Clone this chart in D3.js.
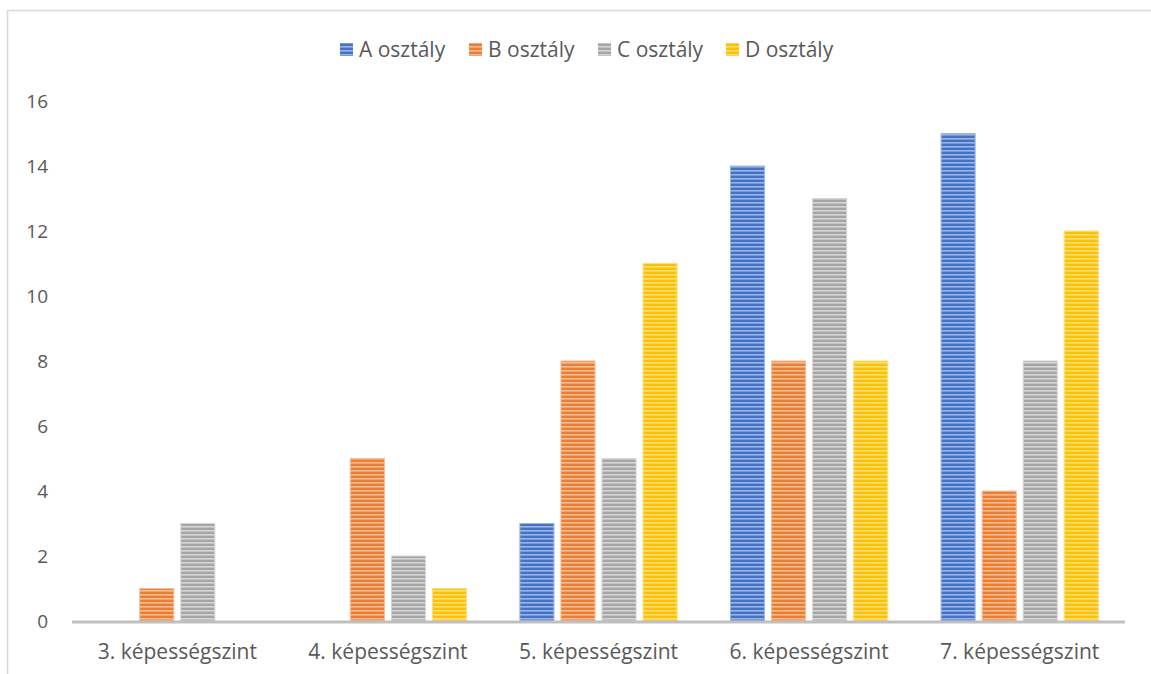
<!DOCTYPE html>
<html><head><meta charset="utf-8">
<script src="https://cdn.jsdelivr.net/npm/d3@7"></script>
<style>body{margin:0;background:#fff}svg{display:block}</style>
</head><body>
<script>
const categories = ["3. képességszint","4. képességszint","5. képességszint","6. képességszint","7. képességszint"];
const seriesNames = ["A osztály","B osztály","C osztály","D osztály"];
const valuesA = [0,0,3,14,15];
const valuesB = [1,5,8,8,4];
const valuesC = [3,2,5,13,8];
const valuesD = [0,1,11,8,12];
const yTicks = [0,2,4,6,8,10,12,14,16];
const colors = ["#4472C4","#ED7D31","#A5A5A5","#FFC000"];
const lights = ["#9DB5E2","#F6BC95","#D6D6D6","#FFDD80"];
const allValues = [valuesA,valuesB,valuesC,valuesD];

const W=1151,H=674;
const svg=d3.select("body").append("svg").attr("width",W).attr("height",H);
const font="'Open Sans', sans-serif";
const defs=svg.append("defs");
colors.forEach((c,i)=>{
  const p=defs.append("pattern").attr("id","pat"+i).attr("patternUnits","userSpaceOnUse")
    .attr("width",8).attr("height",4);
  p.append("rect").attr("width",8).attr("height",4).attr("fill",c);
  p.append("rect").attr("y",2).attr("width",8).attr("height",1.6).attr("fill",lights[i]);
});
svg.append("rect").attr("x",7.5).attr("y",10.5).attr("width",1160).attr("height",700)
  .attr("fill","none").attr("stroke","#D9D9D9").attr("stroke-width",1.5);

const x0=d3.scaleBand().domain(categories).range([72,1125]).paddingInner(0).paddingOuter(0);
const x1=d3.scaleBand().domain(seriesNames).range([0,x0.bandwidth()]).paddingInner(0.17).paddingOuter(0.65);
const y=d3.scaleLinear().domain([0,16]).range([621,101]);

// bars
seriesNames.forEach((s,si)=>{
  svg.append("g").selectAll("rect").data(categories.map((c,ci)=>({c,v:allValues[si][ci]})))
   .join("rect").filter(d=>d.v>0)
   .attr("x",d=>x0(d.c)+x1(s)).attr("width",x1.bandwidth())
   .attr("y",d=>y(d.v)).attr("height",d=>y(0)-y(d.v))
   .attr("fill","url(#pat"+si+")").attr("stroke",lights[si]).attr("stroke-width",1);
});

// axis line
svg.append("line").attr("x1",72).attr("x2",1125).attr("y1",y(0)+1).attr("y2",y(0)+1)
  .attr("stroke","#BFBFBF").attr("stroke-width",3);

// y ticks
const yAxis=d3.axisLeft(y).tickValues(yTicks).tickSize(0).tickPadding(0);
const ga=svg.append("g").attr("transform","translate(48,0)").call(yAxis);
ga.select(".domain").remove();
ga.selectAll("text").attr("font-family",font).attr("font-size",19).attr("fill","#595959").attr("dy","0.35em");

// x labels
const xAxis=d3.axisBottom(x0).tickSize(0).tickPadding(0);
const gx=svg.append("g").attr("transform","translate(0,644)").call(xAxis);
gx.select(".domain").remove();
gx.selectAll("text").attr("font-family",font).attr("font-size",21).attr("fill","#595959").attr("dy","0.71em");

// legend
const leg=svg.append("g");
const starts=[340,469,598,726];
seriesNames.forEach((s,i)=>{
  leg.append("rect").attr("x",starts[i]).attr("y",43).attr("width",13).attr("height",13).attr("fill","url(#pat"+i+")");
  leg.append("text").attr("x",starts[i]+19).attr("y",57)
   .attr("font-family",font).attr("font-size",21).attr("fill","#595959").text(s);
});
</script>
</body></html>
